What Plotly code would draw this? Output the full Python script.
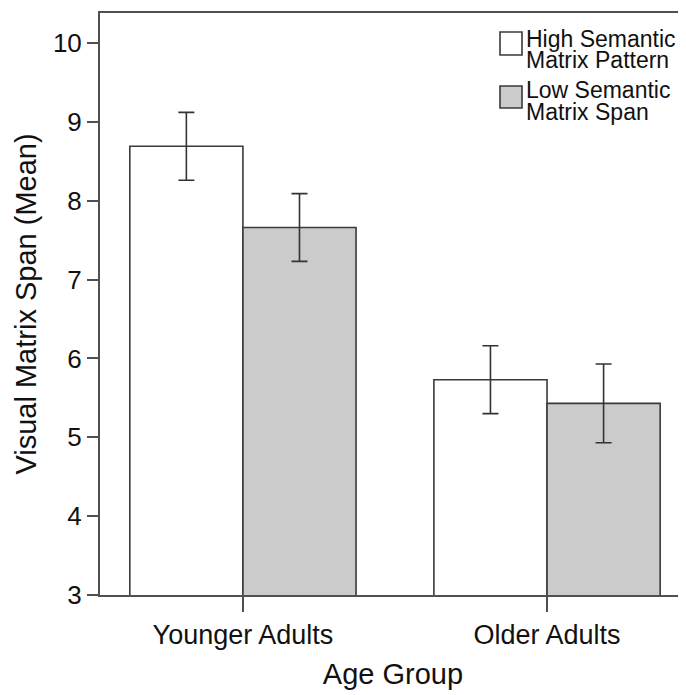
import plotly.graph_objects as go

groups = ["Younger Adults", "Older Adults"]
series_names = ["High Semantic Matrix Pattern", "Low Semantic Matrix Span"]
high_means = [8.69, 5.73]
high_err = [0.43, 0.43]
low_means = [7.66, 5.43]
low_err = [0.43, 0.50]
y_ticks = [3, 4, 5, 6, 7, 8, 9, 10]

OFF = 8  # page body margin
W, H = 686 - OFF, 695 - OFF
L, R, T, B = 100 - OFF, 0, 13 - OFF, 100
pw, ph = W - L - R, H - T - B

def px(x):
    return (x - OFF - L) / pw

def py(y):
    return (H - B - (y - OFF)) / ph

xpos = [0, 1]
fig = go.Figure()
fig.add_trace(go.Bar(
    x=xpos, y=high_means, name=series_names[0], offsetgroup="a",
    marker=dict(color="white", line=dict(color="#3a3a3a", width=1.6)),
    error_y=dict(type="data", array=high_err, visible=True, color="#333333", thickness=1.6, width=8),
))
fig.add_trace(go.Bar(
    x=xpos, y=low_means, name=series_names[1], offsetgroup="b",
    marker=dict(color="#cbcbcb", line=dict(color="#3a3a3a", width=1.6)),
    error_y=dict(type="data", array=low_err, visible=True, color="#333333", thickness=1.6, width=8),
))

font_family = "Liberation Sans, Arial, sans-serif"

fig.update_layout(
    width=W, height=H,
    margin=dict(l=L, r=R, t=T, b=B),
    paper_bgcolor="white", plot_bgcolor="white",
    barmode="group", bargap=0.256, bargroupgap=0,
    showlegend=False,
    font=dict(family=font_family, color="#111111"),
    xaxis=dict(
        range=[-0.470, 1.457], tickvals=xpos, ticktext=groups,
        showline=True, linecolor="#505050", linewidth=2, mirror=True,
        ticks="outside", ticklen=15, tickwidth=1.6, tickcolor="#505050",
        tickfont=dict(size=27, color="#111111"), showgrid=False, zeroline=False,
        title=dict(text="Age Group", font=dict(size=29, color="#111111"), standoff=14),
    ),
    yaxis=dict(
        range=[3, 10.38], tickvals=y_ticks,
        showline=True, linecolor="#505050", linewidth=2,
        ticks="outside", ticklen=11, tickwidth=1.6, tickcolor="#505050",
        tickfont=dict(size=26, color="#111111"), showgrid=False, zeroline=False,
        title=dict(text="Visual Matrix Span (Mean)", font=dict(size=29, color="#111111"), standoff=8),
    ),
)

# legend drawn manually to match the reference's large swatches
boxes = [(500, 32, 522, 55, "white"), (500, 86, 522, 108, "#cbcbcb")]
for x0, y0, x1, y1, c in boxes:
    fig.add_shape(type="rect", xref="paper", yref="paper",
                  x0=px(x0), x1=px(x1), y0=py(y1), y1=py(y0),
                  fillcolor=c, line=dict(color="#3a3a3a", width=1.6), layer="above")

legend_lines = [("High Semantic", 46), ("Matrix Pattern", 67), ("Low Semantic", 97), ("Matrix Span", 119)]
for txt, base in legend_lines:
    fig.add_annotation(text=txt, xref="paper", yref="paper", x=px(524), y=py(base - 7),
                       xanchor="left", yanchor="middle", showarrow=False,
                       font=dict(size=23, color="#111111", family=font_family))

fig.write_html("out.html")
